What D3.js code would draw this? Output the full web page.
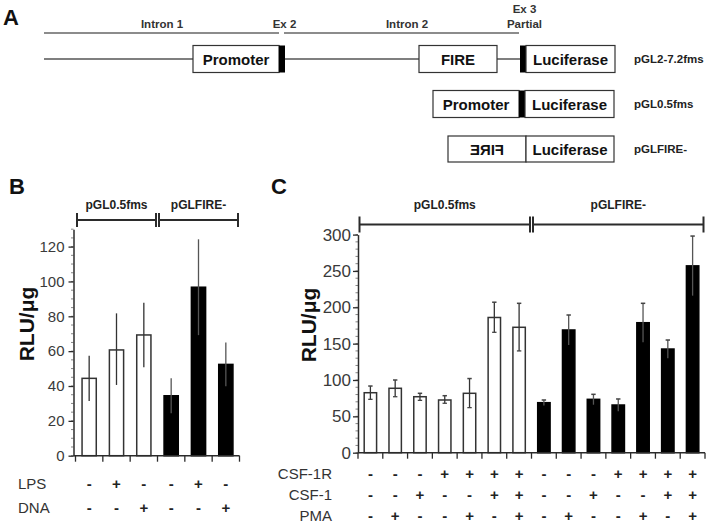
<!DOCTYPE html>
<html><head><meta charset="utf-8">
<script src="https://cdn.jsdelivr.net/npm/d3@7"></script>
<style>
body{margin:0;background:#fff}
svg{display:block;font-family:"Liberation Sans",Arial,Helvetica,sans-serif}
</style>
</head><body>
<svg id="fig" width="709" height="525"></svg>
<script>
// ---------------- Panel A: construct schematic (positions in construct units) ----------------
const aAnnotSegments = [[0, 235], [240, 475]];
const aAnnotLabels = [
  {text: "Intron 1", pos: 118, line: 1},
  {text: "Ex 2", pos: 240.5, line: 1},
  {text: "Intron 2", pos: 363, line: 1},
  {text: "Ex 3", pos: 480.5, line: 0},
  {text: "Partial", pos: 480.5, line: 1}
];
const aConstructs = ["pGL2-7.2fms", "pGL0.5fms", "pGLFIRE-"];
const aBackbone = [[0, 476], null, null];
const aElements = [
  [ {name:"Promoter", s:149, e:235, type:"box"}, {s:235, e:241, type:"exon"},
    {name:"FIRE", s:375, e:453, type:"box"}, {s:476, e:482, type:"exon"},
    {name:"Luciferase", s:482, e:571, type:"box"} ],
  [ {name:"Promoter", s:389, e:475, type:"box"}, {s:475, e:481, type:"exon"},
    {name:"Luciferase", s:481, e:570, type:"box"} ],
  [ {name:"FIRE", s:404, e:482, type:"mirror"}, {name:"Luciferase", s:482, e:570, type:"box"} ]
];

// ---------------- Panel B data ----------------
const bConstruct = ["pGL0.5fms","pGL0.5fms","pGL0.5fms","pGLFIRE-","pGLFIRE-","pGLFIRE-"];
const bLPS = ["-","+","-","-","+","-"];
const bDNA = ["-","-","+","-","-","+"];
const bValues  = [44.4, 60.7, 69.3, 34.4, 96.7, 52.4];
const bErrHigh = [57.4, 81.7, 87.8, 44.4, 124.2, 65.0];
const bErrLow  = [31.4, 40.6, 50.7, 24.4, 69.2, 39.8];
const bTicks = [0, 20, 40, 60, 80, 100, 120];

// ---------------- Panel C data ----------------
const cConstruct = ["pGL0.5fms","pGL0.5fms","pGL0.5fms","pGL0.5fms","pGL0.5fms","pGL0.5fms","pGL0.5fms",
                    "pGLFIRE-","pGLFIRE-","pGLFIRE-","pGLFIRE-","pGLFIRE-","pGLFIRE-","pGLFIRE-"];
const cCSF1R = ["-","-","-","+","+","+","+","-","-","-","+","+","+","+"];
const cCSF1  = ["-","-","+","-","-","+","+","-","-","+","-","-","+","+"];
const cPMA   = ["-","+","-","-","+","-","+","-","+","-","-","+","-","+"];
const cValues  = [82.5, 88.6, 77.0, 72.5, 81.7, 186.0, 172.5, 68.8, 168.8, 73.4, 65.6, 178.8, 142.6, 257.0];
const cErrHigh = [91.7, 100.0, 81.7, 78.4, 102.0, 207.0, 205.5, 72.5, 189.4, 80.3, 73.9, 205.5, 155.0, 298.0];
const cErrLow  = [73.4, 77.0, 72.0, 68.0, 62.0, 165.6, 140.0, 65.0, 148.0, 66.0, 57.0, 152.0, 130.0, 216.0];
const cTicks = [0, 50, 100, 150, 200, 250, 300];

const svg = d3.select("#fig");
const INK = "#2b2b2b";

// ================= Panel A =================
const xA = d3.scaleLinear().domain([0, 571]).range([44, 615]);
const rowY = d3.scalePoint().domain(aConstructs).range([59, 149]);
const boxH = 27;
const gA = svg.append("g");
gA.append("text").attr("x", 3).attr("y", 25).attr("font-size", 22).attr("font-weight", "bold").attr("fill", "#111").text("A");

gA.selectAll("line.annot").data(aAnnotSegments).join("line")
  .attr("x1", d => xA(d[0])).attr("x2", d => xA(d[1]))
  .attr("y1", 33).attr("y2", 33).attr("stroke", "#666").attr("stroke-width", 1.6);
gA.selectAll("text.annot").data(aAnnotLabels).join("text")
  .attr("x", d => xA(d.pos)).attr("y", d => d.line ? 28 : 12.5)
  .attr("text-anchor", "middle").attr("font-size", 11.5).attr("font-weight", "bold").attr("fill", "#333")
  .text(d => d.text);

aConstructs.forEach((name, i) => {
  const cy = rowY(name);
  const g = gA.append("g");
  if (aBackbone[i]) {
    g.append("line").attr("x1", xA(aBackbone[i][0])).attr("x2", xA(aBackbone[i][1]))
      .attr("y1", cy).attr("y2", cy).attr("stroke", "#555").attr("stroke-width", 1.5);
  }
  const h = i === 2 ? 26 : boxH;
  aElements[i].forEach(el => {
    if (el.type === "exon") {
      g.append("rect").attr("x", xA(el.s)).attr("y", cy - h/2).attr("width", xA(el.e) - xA(el.s)).attr("height", h)
        .attr("fill", "#000");
    } else {
      g.append("rect").attr("x", xA(el.s)).attr("y", cy - h/2).attr("width", xA(el.e) - xA(el.s)).attr("height", h)
        .attr("fill", "#fff").attr("stroke", "#333").attr("stroke-width", 1.2);
      const cx = (xA(el.s) + xA(el.e)) / 2;
      const t = g.append("text").attr("text-anchor", "middle").attr("font-size", 15).attr("font-weight", "bold")
        .attr("fill", "#111").attr("dominant-baseline", "central").text(el.name);
      if (el.type === "mirror") t.attr("transform", `translate(${cx},${cy}) scale(-1,1)`);
      else t.attr("x", cx).attr("y", cy);
    }
  });
  g.append("text").attr("x", xA(590)).attr("y", cy).attr("dominant-baseline", "central")
    .attr("font-size", 11.5).attr("font-weight", "bold").attr("fill", "#222").text(name);
});

// ================= Generic bar panel =================
function barPanel(opt) {
  const g = svg.append("g");
  const n = opt.values.length;
  const x = d3.scaleBand().domain(d3.range(n)).range(opt.xRange).paddingInner(opt.pad).paddingOuter(opt.pad/2);
  const step = x.step();
  const x0 = opt.xRange[0];
  const y = d3.scaleLinear().domain(opt.yDomain).range(opt.yRange);

  // panel letter
  g.append("text").attr("x", opt.letterX).attr("y", 194).attr("font-size", 22).attr("font-weight", "bold")
    .attr("fill", "#111").text(opt.letter);

  // y axis title
  g.append("text").attr("transform", `translate(${opt.titleX},${opt.titleY}) rotate(-90)`)
    .attr("text-anchor", "middle").attr("font-size", 21).attr("font-weight", "bold").attr("fill", "#111")
    .text("RLU/μg");

  // minor ticks
  g.selectAll("line.minor").data(d3.range(opt.yDomain[0], opt.yDomain[1] + 0.01, opt.minor)).join("line")
    .attr("x1", opt.axisX - 2.5).attr("x2", opt.axisX).attr("y1", d => y(d)).attr("y2", d => y(d))
    .attr("stroke", "#666").attr("stroke-width", 0.8);

  // y axis
  const ya = g.append("g").attr("transform", `translate(${opt.axisX},0)`)
    .call(d3.axisLeft(y).tickValues(opt.ticks).tickSize(5).tickSizeOuter(0).tickPadding(opt.tickPad));
  ya.select(".domain").attr("stroke", INK).attr("stroke-width", 1.5);
  ya.selectAll(".tick line").attr("stroke", INK).attr("stroke-width", 1.3);
  ya.selectAll(".tick text").attr("font-size", opt.tickFont).attr("fill", "#3a3a3a")
    .attr("font-family", "\"Liberation Sans\",Arial,sans-serif");

  // bars
  const idx = d3.range(n);
  g.selectAll("rect.bar").data(idx).join("rect")
    .attr("x", i => x(i)).attr("width", x.bandwidth())
    .attr("y", i => y(opt.values[i])).attr("height", i => y(0) - y(opt.values[i]))
    .attr("fill", i => opt.construct[i] === opt.groups[0] ? "#fff" : "#000")
    .attr("stroke", i => opt.construct[i] === opt.groups[0] ? "#333" : "#000")
    .attr("stroke-width", 1.5);

  // error bars
  const cx = i => x(i) + x.bandwidth() / 2;
  g.selectAll("line.err").data(idx).join("line")
    .attr("x1", cx).attr("x2", cx)
    .attr("y1", i => y(opt.errLow[i])).attr("y2", i => y(opt.errHigh[i]))
    .attr("stroke", i => opt.construct[i] === opt.groups[0] ? "#333" : "#555").attr("stroke-width", 1.3);
  if (opt.cap > 0) {
    g.selectAll("line.capH").data(idx).join("line")
      .attr("x1", i => cx(i) - opt.cap).attr("x2", i => cx(i) + opt.cap)
      .attr("y1", i => y(opt.errHigh[i])).attr("y2", i => y(opt.errHigh[i]))
      .attr("stroke", "#444").attr("stroke-width", 1.5);
    g.selectAll("line.capL").data(idx.filter(i => opt.construct[i] === opt.groups[0])).join("line")
      .attr("x1", i => cx(i) - opt.cap).attr("x2", i => cx(i) + opt.cap)
      .attr("y1", i => y(opt.errLow[i])).attr("y2", i => y(opt.errLow[i]))
      .attr("stroke", "#444").attr("stroke-width", 1.3);
  }

  // x axis baseline with ticks at band boundaries
  g.append("line").attr("x1", opt.axisX).attr("x2", x0 + n * step).attr("y1", y(0)).attr("y2", y(0))
    .attr("stroke", INK).attr("stroke-width", 1.5);
  g.selectAll("line.xt").data(d3.range(n + 1)).join("line")
    .attr("x1", k => x0 + k * step).attr("x2", k => x0 + k * step)
    .attr("y1", y(0)).attr("y2", y(0) + 6).attr("stroke", INK).attr("stroke-width", 1.3);

  // group brackets
  opt.groups.forEach(gname => {
    const members = idx.filter(i => opt.construct[i] === gname);
    const left = x0 + d3.min(members) * step + 1.5;
    const right = x0 + (d3.max(members) + 1) * step - 1.5;
    const by = opt.bracketY;
    g.append("line").attr("x1", left).attr("x2", right).attr("y1", by).attr("y2", by)
      .attr("stroke", INK).attr("stroke-width", 2);
    [left, right].forEach(px => g.append("line").attr("x1", px).attr("x2", px)
      .attr("y1", by - opt.bracketH).attr("y2", by + opt.bracketH).attr("stroke", INK).attr("stroke-width", 2));
    g.append("text").attr("x", (left + right) / 2).attr("y", opt.groupLabelY).attr("text-anchor", "middle")
      .attr("dominant-baseline", "central").attr("font-size", 12).attr("font-weight", "bold").attr("fill", "#222")
      .text(gname);
  });

  // condition rows
  opt.rows.forEach(r => {
    g.append("text").attr("x", opt.rowLabelX).attr("y", r.y).attr("text-anchor", opt.rowAnchor)
      .attr("dominant-baseline", "central").attr("font-size", opt.rowFont).attr("fill", "#333").text(r.label);
    g.selectAll(null).data(idx).join("text")
      .attr("x", cx).attr("y", r.y).attr("text-anchor", "middle").attr("dominant-baseline", "central")
      .attr("font-size", 15).attr("font-weight", "bold").attr("fill", "#222")
      .text(i => r.signs[i]);
  });
}

// ================= Panel B =================
barPanel({
  letter: "B", letterX: 9, titleX: 34, titleY: 324,
  values: bValues, errHigh: bErrHigh, errLow: bErrLow, construct: bConstruct,
  groups: ["pGL0.5fms", "pGLFIRE-"],
  xRange: [75.5, 239.5], pad: 0.48, axisX: 73.5,
  yDomain: [0, 130], yRange: [455.7, 229.2], ticks: bTicks, minor: 5, tickFont: 15, tickPad: 4,
  cap: 0, bracketY: 220, bracketH: 7, groupLabelY: 205,
  rows: [{label: "LPS", y: 483, signs: bLPS}, {label: "DNA", y: 507, signs: bDNA}],
  rowLabelX: 18, rowAnchor: "start", rowFont: 15
});

// ================= Panel C =================
barPanel({
  letter: "C", letterX: 271, titleX: 316, titleY: 325,
  values: cValues, errHigh: cErrHigh, errLow: cErrLow, construct: cConstruct,
  groups: ["pGL0.5fms", "pGLFIRE-"],
  xRange: [358, 705], pad: 0.5, axisX: 358,
  yDomain: [0, 300], yRange: [452.7, 234.6], ticks: cTicks, minor: 10, tickFont: 17, tickPad: 2,
  cap: 2.2, bracketY: 224.5, bracketH: 8, groupLabelY: 205,
  rows: [{label: "CSF-1R", y: 473, signs: cCSF1R}, {label: "CSF-1", y: 494, signs: cCSF1},
         {label: "PMA", y: 515, signs: cPMA}],
  rowLabelX: 332, rowAnchor: "end", rowFont: 15
});
</script>
</body></html>
